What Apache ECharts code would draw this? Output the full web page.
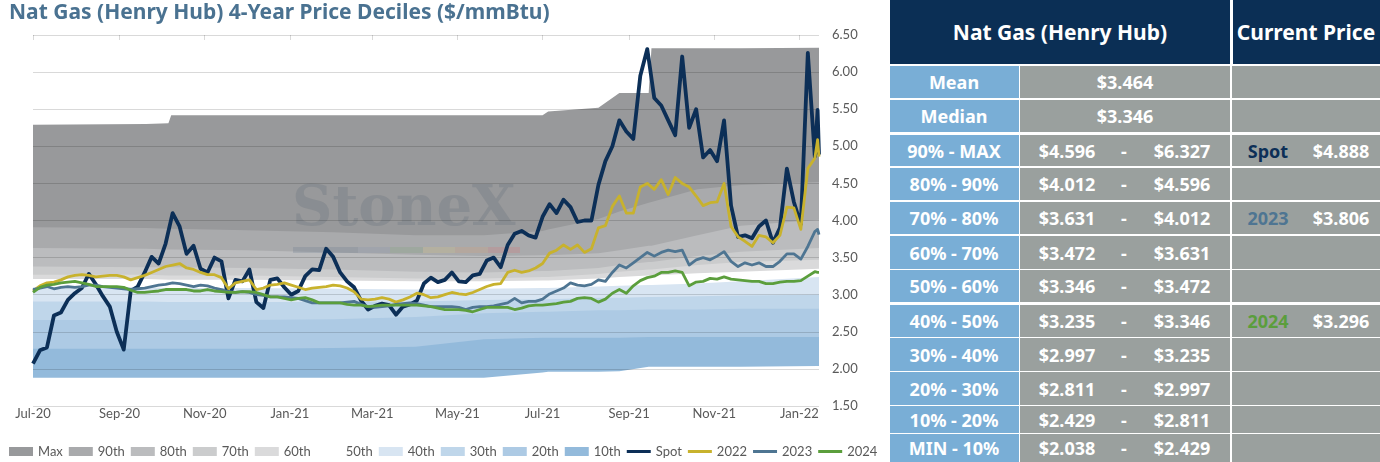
<!DOCTYPE html>
<html>
<head>
<meta charset="utf-8">
<script src="https://cdn.jsdelivr.net/npm/echarts@6/dist/echarts.min.js"></script>
<style>
  html, body { margin: 0; padding: 0; background: #fff; }
  body { width: 1380px; height: 462px; overflow: hidden; position: relative; font-family: "Noto Sans", sans-serif; }
  #chart { position: absolute; left: 0; top: 0; width: 890px; height: 462px; }
  #table { position: absolute; left: 890px; top: 0; width: 490px; height: 462px; }
  .cell { position: absolute; box-sizing: border-box; }
  .txt { position: absolute; top: 50%; transform: translate(-50%, -50%); white-space: nowrap; color: #fff; font-weight: 700; font-size: 18px; }
</style>
</head>
<body>
<div id="chart"></div>
<div id="table"></div>
<script>
// price series, sampled every 5 days
const dates = [
  '2020-07-01','2020-07-06','2020-07-11','2020-07-16','2020-07-21','2020-07-26','2020-07-31',
  '2020-08-05','2020-08-10','2020-08-15','2020-08-20','2020-08-25','2020-08-30',
  '2020-09-04','2020-09-09','2020-09-14','2020-09-19','2020-09-24','2020-09-29',
  '2020-10-04','2020-10-09','2020-10-14','2020-10-19','2020-10-24','2020-10-29',
  '2020-11-03','2020-11-08','2020-11-13','2020-11-18','2020-11-23','2020-11-28',
  '2020-12-03','2020-12-08','2020-12-13','2020-12-18','2020-12-23','2020-12-28',
  '2021-01-02','2021-01-07','2021-01-12','2021-01-17','2021-01-22','2021-01-27',
  '2021-02-01','2021-02-06','2021-02-11','2021-02-16','2021-02-21','2021-02-26',
  '2021-03-03','2021-03-08','2021-03-13','2021-03-18','2021-03-23','2021-03-28',
  '2021-04-02','2021-04-07','2021-04-12','2021-04-17','2021-04-22','2021-04-27',
  '2021-05-02','2021-05-07','2021-05-12','2021-05-17','2021-05-22','2021-05-27',
  '2021-06-01','2021-06-06','2021-06-11','2021-06-16','2021-06-21','2021-06-26',
  '2021-07-01','2021-07-06','2021-07-11','2021-07-16','2021-07-21','2021-07-26','2021-07-31',
  '2021-08-05','2021-08-10','2021-08-15','2021-08-20','2021-08-25','2021-08-30',
  '2021-09-04','2021-09-09','2021-09-14','2021-09-19','2021-09-24','2021-09-29',
  '2021-10-04','2021-10-09','2021-10-14','2021-10-19','2021-10-24','2021-10-29',
  '2021-11-03','2021-11-08','2021-11-13','2021-11-18','2021-11-23','2021-11-28',
  '2021-12-03','2021-12-08','2021-12-13','2021-12-18','2021-12-23','2021-12-28',
  '2022-01-02','2022-01-07','2022-01-12','2022-01-14','2022-01-15'
];

const spot = [
  2.07,2.25,2.29,2.72,2.76,2.93,3.02, 3.09,3.28,3.14,2.98,2.84,2.50,
  2.26,3.05,3.11,3.30,3.51,3.42, 3.69,4.10,3.92,3.55,3.66,3.35,
  3.30,3.50,3.45,2.95,3.20,3.18, 3.34,2.90,2.82,3.20,3.22,3.10,
  3.00,3.05,3.25,3.34,3.33,3.62, 3.51,3.30,3.18,3.10,2.92,2.80,
  2.85,2.88,2.86,2.73,2.84,2.87, 2.92,3.15,3.23,3.17,3.20,3.30,
  3.18,3.17,3.26,3.28,3.46,3.50, 3.37,3.67,3.82,3.86,3.80,3.77,
  4.05,4.22,4.10,4.28,4.18,3.98,4.00, 4.00,4.48,4.80,5.00,5.35,5.20,
  5.10,5.95,6.31,5.65,5.55,5.35, 5.15,6.21,5.25,5.50,4.85,4.95,
  4.80,5.35,4.20,3.78,3.80,3.76, 3.92,4.00,3.70,3.90,4.70,4.25,
  3.95,6.26,4.86,5.49,4.89
];

const y2022 = [
  3.05,3.12,3.16,3.17,3.20,3.24,3.26, 3.27,3.26,3.24,3.25,3.26,3.26,
  3.24,3.20,3.23,3.26,3.30,3.34, 3.38,3.40,3.42,3.36,3.34,3.30,
  3.27,3.27,3.23,3.08,3.16,3.18, 3.20,3.07,3.09,3.13,3.14,3.16,
  3.13,3.10,3.07,3.09,3.10,3.11, 3.13,3.12,3.09,3.04,2.94,2.93,
  2.94,2.96,2.94,2.90,2.93,2.97, 3.02,3.00,2.96,2.97,3.00,3.03,
  3.01,3.00,3.03,3.07,3.11,3.14, 3.15,3.30,3.33,3.30,3.32,3.36,
  3.42,3.56,3.60,3.67,3.61,3.67,3.57, 3.62,3.90,3.93,4.19,4.33,4.10,
  4.10,4.45,4.50,4.42,4.55,4.35, 4.58,4.50,4.45,4.33,4.20,4.24,
  4.25,4.50,3.92,3.78,3.72,3.65, 3.80,3.78,3.70,3.80,4.18,4.17,
  3.88,4.70,4.84,5.09,4.86
];

const y2023 = [
  3.07,3.09,3.11,3.08,3.10,3.11,3.10, 3.11,3.13,3.13,3.11,3.10,3.09,
  3.08,3.07,3.08,3.09,3.11,3.13, 3.14,3.16,3.15,3.13,3.11,3.13,
  3.12,3.09,3.07,3.04,3.03,3.04, 3.03,3.00,2.99,2.97,2.97,2.97,
  2.96,2.95,2.92,2.89,2.89,2.89, 2.89,2.89,2.90,2.91,2.87,2.84,
  2.83,2.84,2.85,2.87,2.88,2.89, 2.88,2.86,2.84,2.84,2.84,2.84,
  2.83,2.80,2.83,2.84,2.84,2.85, 2.87,2.89,2.95,2.89,2.91,2.91,
  2.94,3.01,3.05,3.09,3.16,3.13,3.12, 3.14,3.20,3.18,3.30,3.40,3.36,
  3.43,3.50,3.57,3.52,3.57,3.60, 3.58,3.60,3.40,3.47,3.50,3.47,
  3.52,3.58,3.45,3.38,3.43,3.40, 3.43,3.38,3.38,3.45,3.55,3.55,
  3.48,3.65,3.85,3.88,3.81
];

const y2024 = [
  3.03,3.10,3.13,3.14,3.16,3.17,3.18, 3.16,3.14,3.11,3.11,3.11,3.11,
  3.10,3.06,3.03,3.03,3.04,3.05, 3.07,3.07,3.07,3.07,3.05,3.05,
  3.07,3.05,3.04,3.03,3.03,3.04, 3.04,3.03,3.00,2.97,2.97,2.95,
  2.93,2.95,2.96,2.93,2.89,2.89, 2.89,2.89,2.87,2.86,2.86,2.84,
  2.85,2.86,2.86,2.86,2.86,2.86, 2.86,2.85,2.84,2.82,2.80,2.80,
  2.80,2.79,2.77,2.80,2.83,2.83, 2.83,2.83,2.80,2.82,2.85,2.86,
  2.86,2.87,2.88,2.90,2.91,2.95,2.96, 2.95,2.90,2.94,3.02,3.07,3.02,
  3.12,3.19,3.23,3.25,3.30,3.30, 3.32,3.30,3.12,3.17,3.18,3.22,
  3.21,3.24,3.21,3.20,3.19,3.18, 3.18,3.15,3.15,3.17,3.18,3.18,
  3.19,3.25,3.31,3.30,3.30
];

// rolling 4-year decile boundaries
const bandDates = [
  '2020-07-01','2020-09-20','2020-10-06','2020-10-08','2020-12-01','2021-02-01',
  '2021-04-01','2021-05-20','2021-07-01','2021-07-05','2021-08-10','2021-08-25',
  '2021-09-15','2021-09-17','2021-10-20','2021-11-20','2022-01-15'
];
const pMax = [5.29,5.30,5.31,5.42,5.42,5.42,5.42,5.42,5.42,5.47,5.52,5.72,5.72,6.32,6.32,6.32,6.327];
const p90 = [3.91,3.90,3.89,3.89,3.87,3.84,3.80,3.80,3.86,3.88,4.02,4.12,4.24,4.25,4.42,4.48,4.52];
const p80 = [3.63,3.62,3.61,3.61,3.60,3.57,3.54,3.52,3.53,3.53,3.56,3.60,3.66,3.66,3.80,3.93,4.01];
const p70 = [3.38,3.37,3.37,3.37,3.36,3.34,3.31,3.30,3.32,3.32,3.36,3.40,3.44,3.44,3.52,3.58,3.63];
const p60 = [3.27,3.27,3.26,3.26,3.26,3.24,3.22,3.22,3.24,3.24,3.28,3.31,3.34,3.34,3.40,3.44,3.47];
const p50 = [3.21,3.21,3.20,3.20,3.20,3.19,3.18,3.18,3.19,3.19,3.22,3.24,3.26,3.26,3.29,3.31,3.35];
const p40 = [3.10,3.10,3.09,3.09,3.09,3.08,3.07,3.08,3.09,3.09,3.11,3.12,3.13,3.13,3.15,3.18,3.24];
const p30 = [2.91,2.91,2.90,2.90,2.90,2.90,2.91,2.93,2.94,2.94,2.96,2.96,2.97,2.97,2.98,2.99,3.00];
const p20 = [2.66,2.66,2.66,2.66,2.66,2.67,2.70,2.75,2.77,2.77,2.79,2.79,2.80,2.80,2.80,2.81,2.81];
const p10 = [2.27,2.27,2.27,2.27,2.27,2.28,2.30,2.40,2.42,2.42,2.42,2.42,2.43,2.43,2.43,2.43,2.43];
const pMin = [1.88,1.88,1.88,1.88,1.88,1.88,1.88,1.88,1.95,1.96,1.96,1.97,2.03,2.03,2.03,2.03,2.04];

const tickDates = ['2020-07-01','2020-09-01','2020-11-01','2021-01-01','2021-03-01',
  '2021-05-01','2021-07-01','2021-09-01','2021-11-01','2022-01-01'];

// table
const tblLabels = ['Mean','Median','90% - MAX','80% - 90%','70% - 80%','60% - 70%','50% - 60%',
  '40% - 50%','30% - 40%','20% - 30%','10% - 20%','MIN - 10%'];
const tblLow = ['$3.464','$3.346','$4.596','$4.012','$3.631','$3.472','$3.346','$3.235','$2.997','$2.811','$2.429','$2.038'];
const tblHigh = ['','','$6.327','$4.596','$4.012','$3.631','$3.472','$3.346','$3.235','$2.997','$2.811','$2.429'];
const curName = ['','','Spot','','2023','','','2024','','','',''];
const curPrice = ['','','$4.888','','$3.806','','','$3.296','','','',''];

const navy = '#0c2f57';
const lineColors = { Spot: navy, '2022': '#c8b22d', '2023': '#4e7592', '2024': '#5b9e3c' };

// summary table at the right
const tbl = document.getElementById('table');
function addCell(x, y, w, h, bg) {
  const c = document.createElement('div');
  c.className = 'cell';
  c.style.left = x + 'px'; c.style.top = y + 'px';
  c.style.width = w + 'px'; c.style.height = h + 'px';
  c.style.background = bg;
  tbl.appendChild(c);
  return c;
}
function addText(cell, cx, text, color, size) {
  const t = document.createElement('span');
  t.className = 'txt';
  t.style.left = cx + 'px';
  t.textContent = text;
  if (color) t.style.color = color;
  if (size) t.style.fontSize = size + 'px';
  cell.appendChild(t);
}
const headBg = '#0b2f55', labBg = '#79aed6', valBg = '#9aa09e';
addText(addCell(0, 0, 340, 64, headBg), 170, 'Nat Gas (Henry Hub)', null, 21);
addText(addCell(343, 0, 147, 64, headBg), 73, 'Current Price', null, 21);

const rowTop = [66, 100, 135, 168, 202, 236, 270, 305, 338, 372, 406, 434];
const rowBot = [98, 132, 166, 200, 234, 269, 302, 337, 371, 405, 433, 462];
tblLabels.forEach(function (lab, i) {
  const y = rowTop[i], h = rowBot[i] - rowTop[i];
  addText(addCell(0, y, 129, h, labBg), 64, lab);
  const v = addCell(130, y, 210, h, valBg);
  if (tblHigh[i]) {
    addText(v, 47, tblLow[i]);
    addText(v, 104, '-');
    addText(v, 162, tblHigh[i]);
  } else {
    addText(v, 105, tblLow[i]);
  }
  const c = addCell(342, y, 148, h, valBg);
  if (curName[i]) {
    addText(c, 36, curName[i], lineColors[curName[i]]);
    addText(c, 109, curPrice[i]);
  }
});

// chart
function ts(s) { const p = s.split('-'); return new Date(+p[0], +p[1] - 1, +p[2]).getTime(); }

const bands = [
  ['Max', pMax, '#98999b'],
  ['90th', p90, '#a9aaac'],
  ['80th', p80, '#bbbcbe'],
  ['70th', p70, '#cbcccd'],
  ['60th', p60, '#dadadb'],
  ['50th', p50, '#ffffff'],
  ['40th', p40, '#d8e5f2'],
  ['30th', p30, '#bfd6ea'],
  ['20th', p20, '#adcae4'],
  ['10th', p10, '#93badb'],
  ['MIN', pMin, '#ffffff']
];

const series = [];
bands.forEach(function (b, i) {
  series.push({
    name: b[0],
    type: 'line',
    z: 1 + i * 0.01,
    symbol: 'none',
    silent: true,
    data: bandDates.map(function (d, k) { return [ts(d), b[1][k]]; }),
    itemStyle: { color: b[2] },
    lineStyle: { width: 0 },
    areaStyle: { origin: 'start', color: b[2], opacity: 1 }
  });
});

const lines = [['Spot', spot, 3.8], ['2022', y2022, 2.8], ['2023', y2023, 2.8], ['2024', y2024, 2.8]];
lines.forEach(function (l, i) {
  series.push({
    name: l[0],
    type: 'line',
    z: 4 + i * 0.01,
    symbol: 'none',
    data: dates.map(function (d, k) { return [ts(d), l[1][k]]; }),
    itemStyle: { color: lineColors[l[0]] },
    lineStyle: { width: l[2], color: lineColors[l[0]], join: 'round' }
  });
});

const MONTHS = ['Jan','Feb','Mar','Apr','May','Jun','Jul','Aug','Sep','Oct','Nov','Dec'];
const gridLine = 'rgba(0,0,0,0.15)';
const tickTs = tickDates.map(ts);
const xMin = ts('2020-07-01'), xMax = ts('2022-01-15');

const legendData = bands.slice(0, 10).map(function (b) { return { name: b[0], icon: 'rect' }; })
  .concat(lines.map(function (l) { return { name: l[0], icon: 'path://M0,0L24,0L24,3L0,3Z' }; }));

const option = {
  animation: false,
  textStyle: { fontFamily: 'Lato, "Noto Sans", sans-serif' },
  title: {
    text: 'Nat Gas (Henry Hub) 4-Year Price Deciles ($/mmBtu)',
    left: 9, top: 3, padding: 0,
    textStyle: { color: '#4a7291', fontSize: 21, fontWeight: 'bold', fontFamily: '"Noto Sans"' }
  },
  legend: {
    left: 9, top: 445, padding: 0,
    itemWidth: 24, itemHeight: 9, itemGap: 6, symbolKeepAspect: true,
    textStyle: { fontSize: 13, color: '#595959' },
    data: legendData
  },
  grid: { left: 33, right: 71, top: 35, bottom: 56 },
  xAxis: [
    {
      type: 'value', position: 'bottom', min: xMin, max: xMax,
      axisLine: { show: false }, axisTick: { show: false }, splitLine: { show: false },
      axisLabel: {
        customValues: tickTs, margin: 1, color: '#595959', fontSize: 13,
        formatter: function (v) { const d = new Date(v); return MONTHS[d.getMonth()] + '-' + String(d.getFullYear()).slice(2); }
      }
    },
    {
      type: 'value', position: 'top', z: 3, min: xMin, max: xMax,
      axisLine: { show: false }, splitLine: { show: false },
      axisTick: { show: true, inside: true, length: 5, customValues: tickTs, lineStyle: { color: gridLine } },
      axisLabel: { show: false }
    }
  ],
  yAxis: {
    type: 'value', position: 'right', z: 3,
    min: 1.5, max: 6.5, interval: 0.5,
    axisLine: { show: false }, axisTick: { show: false },
    splitLine: { show: true, lineStyle: { color: gridLine, width: 1 } },
    axisLabel: { margin: 13, color: '#595959', fontSize: 13, formatter: function (v) { return v.toFixed(2); } }
  },
  graphic: [
    { type: 'text', left: 292, top: 182, z: 3, silent: true,
      style: { text: 'StoneX', font: 'bold 56px "DejaVu Serif"', fill: 'rgba(100,112,122,0.28)' } },
    { type: 'rect', z: 3, silent: true, shape: { x: 293, y: 247, width: 65, height: 6 }, style: { fill: 'rgba(80,100,130,0.18)' } },
    { type: 'rect', z: 3, silent: true, shape: { x: 358, y: 247, width: 32, height: 6 }, style: { fill: 'rgba(120,140,170,0.18)' } },
    { type: 'rect', z: 3, silent: true, shape: { x: 390, y: 247, width: 33, height: 6 }, style: { fill: 'rgba(110,160,100,0.18)' } },
    { type: 'rect', z: 3, silent: true, shape: { x: 423, y: 247, width: 32, height: 6 }, style: { fill: 'rgba(220,200,120,0.22)' } },
    { type: 'rect', z: 3, silent: true, shape: { x: 455, y: 247, width: 33, height: 6 }, style: { fill: 'rgba(220,160,110,0.22)' } },
    { type: 'rect', z: 3, silent: true, shape: { x: 488, y: 247, width: 32, height: 6 }, style: { fill: 'rgba(220,110,110,0.22)' } }
  ],
  series: series
};

const chart = echarts.init(document.getElementById('chart'), null, { renderer: 'canvas' });
chart.setOption(option);
</script>
</body>
</html>
